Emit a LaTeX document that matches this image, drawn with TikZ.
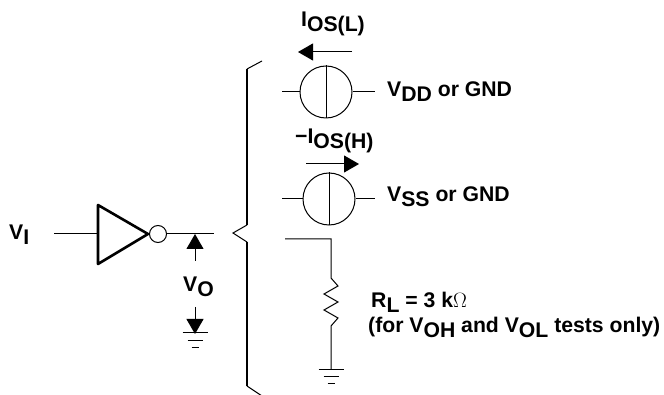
\documentclass[tikz,border=0pt]{standalone}
\usepackage{fontspec}
\setmainfont{Liberation Sans}
\newfontfamily\omegafont{Liberation Serif}
\usetikzlibrary{arrows.meta}
\newcommand{\lowsub}[1]{\raisebox{-5pt}{#1}}

\begin{document}
\begin{tikzpicture}[x=1pt, y=-1pt]
    % Styles
    \tikzstyle{label} = [anchor=base west, inner sep=0pt, font=\bfseries\fontsize{21.2}{24}\selectfont]
    \tikzstyle{wire} = [draw, line width=1pt]
    \tikzstyle{source} = [circle, draw, line width=1pt, inner sep=0pt, minimum size=52pt]
    \tikzstyle{current} = [draw, line width=1pt, -{Triangle[length=15pt, width=17pt]}]
    \useasboundingbox (0,0) rectangle (664,395);

    % Nodes
    \node [label] (vi) at (9,240) {V\lowsub{I}};
    \node [circle, draw, line width=1pt, inner sep=0pt, minimum size=17pt] (bubble) at (158,234) {};
    \node [source] (srcdd) at (326,92) {};
    \node [source] (srcss) at (329,199) {};
    \node [label] (vo) at (183,292) {V\lowsub{O}};
    \node [label] (iosl) at (301,27) {I\lowsub{OS(L)}};
    \node [label] (iosh) at (295,144) {\textminus I\lowsub{OS(H)}};
    \node [label] (vdd) at (387,97) {V\lowsub{DD} or GND};
    \node [label] (vss) at (387,202) {V\lowsub{SS} or GND};
    \node [label] (rl) at (371,308) {R\lowsub{L} = 3 k{\omegafont\mdseries $\Omega$}};
    \node [label] (tests) at (368,333) {(for V\lowsub{OH} and V\lowsub{OL} tests only)};

    % Free ends
    \coordinate (inend) at (54,234);
    \coordinate (gatein) at (98,234);
    \coordinate (gatetop) at (98,205);
    \coordinate (gatebot) at (98,264);
    \coordinate (gatetip) at (148,234);
    \coordinate (outend) at (214,234);
    \coordinate (voup) at (195,261);
    \coordinate (voupTip) at (195,234);
    \coordinate (vodown) at (195,307);
    \coordinate (vodownTip) at (195,334);
    \coordinate (ddleft) at (282,92);
    \coordinate (ddright) at (375,92);
    \coordinate (ssleft) at (282,199);
    \coordinate (ssright) at (375,199);
    \coordinate (ioslstart) at (352,52);
    \coordinate (ioslTip) at (298,52);
    \coordinate (ioshstart) at (306,164);
    \coordinate (ioshTip) at (359,164);
    \coordinate (loadstart) at (285,239);
    \coordinate (loadcorner) at (331,239);
    \coordinate (restop) at (331,278);
    \coordinate (resbot) at (331,326);
    \coordinate (gndload) at (331,369);

    % Connections
    \path [wire] (inend) -- (gatein);
    \draw [line width=2.6pt, line join=round] (gatetop) -- (gatetip) -- (gatebot) -- cycle;
    \path [wire] (bubble) -- (outend);
    \path [current] (voup) -- (voupTip);
    \path [current] (vodown) -- (vodownTip);
    \path [wire] (ddleft) -- (srcdd) (srcdd) -- (ddright);
    \path [wire] (srcdd.north) -- (srcdd.south);
    \path [wire] (ssleft) -- (srcss) (srcss) -- (ssright);
    \path [wire] (srcss.north) -- (srcss.south);
    \path [current] (ioslstart) -- (ioslTip);
    \path [current] (ioshstart) -- (ioshTip);
    \path [wire] (loadstart) -- (loadcorner) -- (restop)
        -- ++(7,8) -- ++(-14,8) -- ++(14,8) -- ++(-14,8) -- ++(14,8) -- (resbot) -- (gndload);

    % Grounds
    \foreach \gx/\gy in {195/333, 331/369} {
        \draw [line width=1pt] (\gx-12.5,\gy) -- (\gx+12.5,\gy);
        \draw [line width=1pt] (\gx-7.5,\gy+7.5) -- (\gx+7.5,\gy+7.5);
        \draw [line width=1pt] (\gx-3.5,\gy+14) -- (\gx+3.5,\gy+14);
    }

    % Brace
    \draw [line width=1pt] (262,61) -- (247,69);
    \draw [line width=1.6pt] (247,69) -- (247,225);
    \draw [line width=1pt] (247,225) -- (233,233) -- (247,242);
    \draw [line width=1.6pt] (247,242) -- (247,386);
    \draw [line width=1pt] (247,386) -- (262,396);
\end{tikzpicture}
\end{document}
